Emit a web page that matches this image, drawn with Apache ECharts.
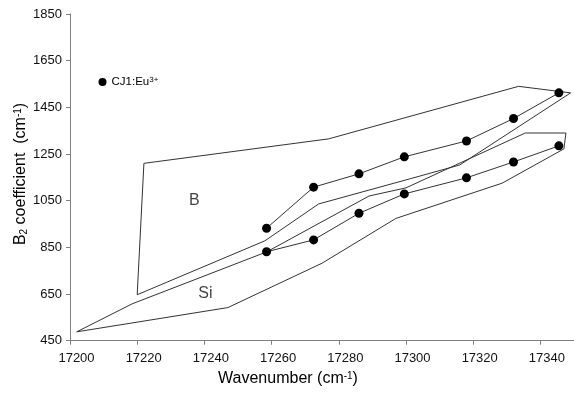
<!DOCTYPE html>
<html><head><meta charset="utf-8">
<script src="https://cdn.jsdelivr.net/npm/echarts@6/dist/echarts.min.js"></script>
<style>html,body{margin:0;padding:0;background:#fff}#c{width:574px;height:394px}</style>
</head><body><div id="c"></div>
<script>
const wavenumbers = [17258.5, 17272.5, 17286, 17299.5, 17318, 17332, 17345.5];
const upperB2 = [932, 1108, 1165, 1238, 1306, 1402, 1512];
const lowerB2 = [831, 882, 996, 1079, 1148, 1216, 1285];
const regionB = [[17222,1210],[17277,1315],[17333.5,1540],[17349,1512],[17316,1203],[17301,1143],[17274,1036],[17258,878],[17220,647],[17222,1210]];
const regionSi = [[17202,488],[17218.5,608],[17258.6,831],[17289,1070],[17300,1105],[17335.5,1340],[17347.6,1340],[17347,1272],[17328.6,1125],[17297,974],[17275,782],[17247,592],[17202,488]];
const regionLabels = [{name:'B', value:[17237,1049]},{name:'Si', value:[17240.3,651]}];
const xMin = 17200, xMax = 17350, xStep = 20;
const yMin = 450, yMax = 1850, yStep = 200;
const seriesName = 'CJ1:Eu3+';

const FF = '"Liberation Sans", Arial, sans-serif';
const chart = echarts.init(document.getElementById('c'), null, {renderer:'canvas'});
const polyStyle = {color:'#333', width:1};
chart.setOption({
  animation:false,
  backgroundColor:'#fff',
  grid:{left:70, right:-1, top:14, bottom:53.3, containLabel:false},
  xAxis:{type:'value', min:xMin, max:xMax, interval:xStep,
    axisLine:{lineStyle:{color:'#808080', width:1}},
    axisTick:{show:true, length:4, inside:false, lineStyle:{color:'#808080'}},
    splitLine:{show:false},
    axisLabel:{fontFamily:FF, fontSize:13, color:'#111', margin:11, padding:[0,0,0,13],
      showMaxLabel:false, formatter:v=>String(v)}},
  yAxis:{type:'value', min:yMin, max:yMax, interval:yStep,
    axisLine:{show:true, lineStyle:{color:'#808080', width:1}},
    axisTick:{show:true, length:4, inside:false, lineStyle:{color:'#808080'}},
    splitLine:{show:false},
    axisLabel:{fontFamily:FF, fontSize:13, color:'#111', margin:8, formatter:v=>String(v)}},
  legend:{data:[{name:seriesName, icon:'circle'}], left:98.5, top:76, padding:0, itemWidth:8, itemHeight:8,
    formatter:()=>'{a|CJ1:Eu}{b|3+}',
    textStyle:{rich:{a:{fontFamily:FF, fontSize:11.5, color:'#000'}, b:{fontFamily:FF, fontSize:8, color:'#000', verticalAlign:'top'}}}},
  series:[
    {type:'line', data:regionB, symbol:'none', lineStyle:polyStyle, silent:true, clip:false, z:2},
    {type:'line', data:regionSi, symbol:'none', lineStyle:polyStyle, silent:true, clip:false, z:2},
    {type:'line', name:seriesName, data:wavenumbers.map((x,i)=>[x,upperB2[i]]), symbol:'circle', symbolSize:9,
      itemStyle:{color:'#000'}, lineStyle:{color:'#333', width:1}, clip:false, z:3},
    {type:'line', name:seriesName, data:wavenumbers.map((x,i)=>[x,lowerB2[i]]), symbol:'circle', symbolSize:9,
      itemStyle:{color:'#000'}, lineStyle:{color:'#333', width:1}, clip:false, z:3},
    {type:'scatter', data:regionLabels, symbolSize:1, itemStyle:{color:'rgba(0,0,0,0)'}, silent:true,
      label:{show:true, position:'inside', formatter:p=>p.name, fontFamily:FF, fontSize:16, color:'#111'}}
  ],
  graphic:[
    {type:'text', x:288, y:379, style:{text:'{n|Wavenumber (cm}{s|-1}{n|)}', align:'center', verticalAlign:'middle',
      rich:{n:{fontFamily:FF, fontSize:16, color:'#111'}, s:{fontFamily:FF, fontSize:10, color:'#111', verticalAlign:'top'}}}},
    {type:'text', x:21, y:174, rotation:Math.PI/2, style:{text:'{n|B}{d|2}{n| coefficient  (cm}{s|-1}{n|)}', align:'center', verticalAlign:'middle',
      rich:{n:{fontFamily:FF, fontSize:16, color:'#111'}, d:{fontFamily:FF, fontSize:10, color:'#111', verticalAlign:'bottom'}, s:{fontFamily:FF, fontSize:10, color:'#111', verticalAlign:'top'}}}}
  ]
});
</script></body></html>
